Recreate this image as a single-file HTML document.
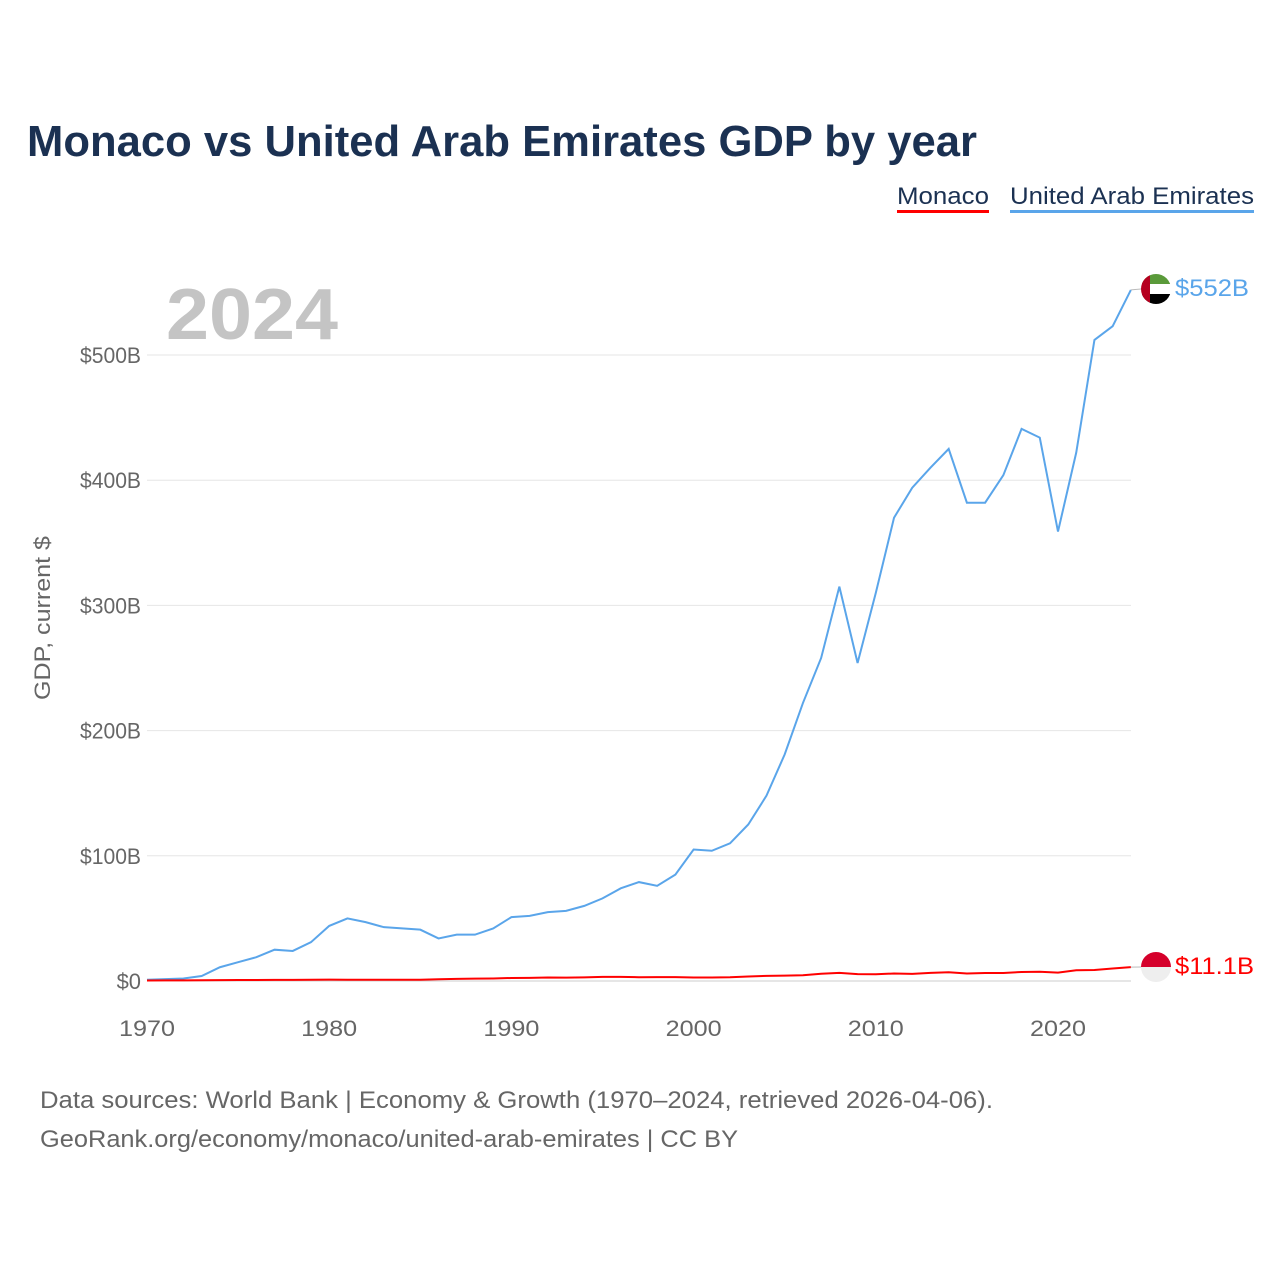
<!DOCTYPE html>
<html><head><meta charset="utf-8"><style>
body{margin:0;background:#fff;font-family:"Liberation Sans",sans-serif;}
svg text{font-family:"Liberation Sans",sans-serif;}
</style></head><body>
<svg width="1280" height="1280" viewBox="0 0 1280 1280" xmlns="http://www.w3.org/2000/svg">
<text x="27" y="156" font-size="44" font-weight="bold" fill="#1b3152" textLength="950" lengthAdjust="spacingAndGlyphs">Monaco vs United Arab Emirates GDP by year</text>
<g><text x="897" y="204" font-size="24" fill="#1b3152" textLength="92" lengthAdjust="spacingAndGlyphs">Monaco</text><rect x="897" y="210" width="92" height="3" fill="#ff0000"/></g>
<g><text x="1010" y="204" font-size="24" fill="#1b3152" textLength="244" lengthAdjust="spacingAndGlyphs">United Arab Emirates</text><rect x="1010" y="210" width="244" height="3" fill="#5aa5ea"/></g>
<text x="166" y="339" font-size="72" font-weight="bold" fill="#c4c4c4" textLength="172" lengthAdjust="spacingAndGlyphs">2024</text>
<g id="grid"></g>
<g id="yticks"></g>
<g id="xticks"></g>
<text transform="translate(50,618) rotate(-90)" text-anchor="middle" font-size="22" fill="#666" textLength="164" lengthAdjust="spacingAndGlyphs">GDP, current $</text>
<g id="series"></g>
<g>
<clipPath id="c1"><circle cx="1156" cy="289" r="15"/></clipPath>
<g clip-path="url(#c1)"><rect x="1141" y="274" width="30" height="10" fill="#5a9a3a"/><rect x="1141" y="284" width="30" height="10" fill="#fff"/><rect x="1141" y="294" width="30" height="10" fill="#000"/><rect x="1141" y="274" width="9" height="30" fill="#b5001f"/></g></g>
<g>
<clipPath id="c2"><circle cx="1156" cy="967" r="15"/></clipPath>
<g clip-path="url(#c2)"><rect x="1141" y="952" width="30" height="15" fill="#d5002b"/><rect x="1141" y="967" width="30" height="15" fill="#eee"/></g></g>
<text x="1175" y="296" font-size="24" fill="#5aa5ea" textLength="74" lengthAdjust="spacingAndGlyphs">$552B</text>
<text x="1175" y="974" font-size="24" fill="#ff0000" textLength="79" lengthAdjust="spacingAndGlyphs">$11.1B</text>
<text x="40" y="1108" font-size="24" fill="#666" textLength="953" lengthAdjust="spacingAndGlyphs">Data sources: World Bank | Economy &amp; Growth (1970–2024, retrieved 2026-04-06).</text>
<text x="40" y="1147" font-size="24" fill="#666" textLength="698" lengthAdjust="spacingAndGlyphs">GeoRank.org/economy/monaco/united-arab-emirates | CC BY</text>
</svg>
<script>
const years=[];for(let y=1970;y<=2024;y++)years.push(y);
const uae=[1,1.5,2,4,11,15,19,25,24,31,44,50,47,43,42,41,34,37,37,42,51,52,55,56,60,66,74,79,76,85,105,104,110,125,148,181,222,258,315,254,310,370,394,410,425,382,382,404,441,434,359,422,512,523,552];
const monaco=[0.4,0.45,0.5,0.6,0.7,0.75,0.8,0.85,0.9,1.0,1.1,1.0,1.0,0.95,0.95,1.0,1.4,1.7,1.9,2.0,2.4,2.5,2.8,2.7,2.9,3.3,3.3,3.0,3.1,3.1,2.8,2.8,3.0,3.6,4.1,4.3,4.6,5.8,6.5,5.5,5.4,6.0,5.7,6.5,7.0,6.0,6.4,6.4,7.2,7.4,6.7,8.6,8.8,10.0,11.1];
const yTicks=[0,100,200,300,400,500];
const xTicks=[1970,1980,1990,2000,2010,2020];
const X=y=>147+(y-1970)*(1058-147)/50;
const Y=v=>981-v*(981-355)/500;
const NS="http://www.w3.org/2000/svg";
function mk(t,a,p){const e=document.createElementNS(NS,t);for(const k in a)e.setAttribute(k,a[k]);p.appendChild(e);return e;}
const grid=document.getElementById('grid'),yt=document.getElementById('yticks'),xt=document.getElementById('xticks'),s=document.getElementById('series');
yTicks.forEach(v=>{
const l=mk('line',{x1:147,x2:1131,y1:Y(v),y2:Y(v),stroke:v==0?'#ccc':'#e6e6e6','stroke-width':1},grid);


const lab='$'+v+(v?'B':'');
const t=mk('text',{x:141,y:Y(v)+8,'text-anchor':'end','font-size':22,fill:'#666',textLength:lab.length*12.2,lengthAdjust:'spacingAndGlyphs'},yt);t.textContent=lab;


});
xTicks.forEach(v=>{
const t=mk('text',{x:X(v),y:1036,'text-anchor':'middle','font-size':22,fill:'#666',textLength:56,lengthAdjust:'spacingAndGlyphs'},xt);t.textContent=v;


});
function line(d,c,n){const p=mk('path',{d:d.map((v,i)=>(i?'L':'M')+X(years[i])+','+Y(v)).join(''),fill:'none',stroke:c,'stroke-width':2},s);

}
line(uae,'#5aa5ea','uae-line');
line(monaco,'#ff0000','monaco-line');
const g1=mk('line',{x1:X(2024),x2:1141,y1:Y(552),y2:289,stroke:'#bbb'},s);


const g2=mk('line',{x1:X(2024),x2:1141,y1:Y(11.1),y2:967,stroke:'#bbb'},s);


</script>
</body></html>
